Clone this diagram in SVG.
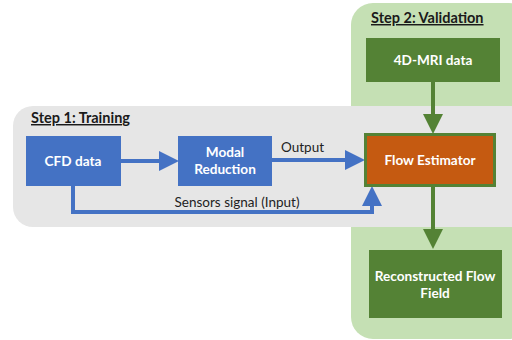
<svg xmlns="http://www.w3.org/2000/svg" width="512" height="340" viewBox="0 0 512 340">
<style>
.lbl{font-family:Lato,"Open Sans","Liberation Sans",sans-serif;font-weight:bold;font-size:13.6px;fill:#fff;text-anchor:middle}
.step{font-family:Lato,"Open Sans","Liberation Sans",sans-serif;font-weight:bold;font-size:14.5px;fill:#1a1a1a;text-decoration:underline}
.plain{font-family:Lato,"Open Sans","Liberation Sans",sans-serif;font-size:13.5px;fill:#222}
.blue{fill:#4472C4}
.green{fill:#548235}
.bl{stroke:#4472C4;stroke-width:4;fill:none}
.gl{stroke:#548235;stroke-width:4;fill:none}
</style>
<defs>
<marker id="ab" markerWidth="5" markerHeight="5" refX="4" refY="2.5" orient="auto" markerUnits="strokeWidth"><path d="M0,0 L5,2.5 L0,5 Z" fill="#4472C4"/></marker>
<marker id="ag" markerWidth="5" markerHeight="5" refX="4" refY="2.5" orient="auto" markerUnits="strokeWidth"><path d="M0,0 L5,2.5 L0,5 Z" fill="#548235"/></marker>
</defs>
<rect width="512" height="340" fill="#fff"/>
<rect id="panel2" x="351" y="3" width="180" height="336" rx="22" fill="#C5E0B4"/>
<rect id="panel1" x="13" y="106" width="520" height="121" rx="20" fill="#E6E6E6"/>
<text class="step" x="371" y="23">Step 2: Validation</text>
<text class="step" x="31" y="123">Step 1: Training</text>
<g id="connectors">
<line class="bl" x1="121" y1="161" x2="175" y2="161" marker-end="url(#ab)"/>
<line class="bl" x1="272" y1="160" x2="361" y2="160" marker-end="url(#ab)"/>
<polyline class="bl" points="73,186 73,212 372,212 372,190" marker-end="url(#ab)"/>
<line class="gl" x1="433" y1="82" x2="433" y2="130" marker-end="url(#ag)"/>
<line class="gl" x1="433" y1="187" x2="433" y2="245" marker-end="url(#ag)"/>
<text class="plain" x="281" y="152">Output</text>
<text class="plain" x="237" y="207" text-anchor="middle">Sensors signal (Input)</text>
</g>
<g id="cfd"><rect class="blue" x="26" y="136" width="95" height="50"/><text class="lbl" x="73" y="166">CFD data</text></g>
<g id="modal"><rect class="blue" x="178" y="136" width="94" height="50"/><text class="lbl" x="225" y="157">Modal</text><text class="lbl" x="225" y="174">Reduction</text></g>
<g id="flow"><rect x="365.5" y="134.5" width="129" height="51" fill="#C55A11" stroke="#548235" stroke-width="3"/><text class="lbl" x="430" y="165">Flow Estimator</text></g>
<g id="mri"><rect class="green" x="366" y="38" width="134" height="44"/><text class="lbl" x="433" y="65">4D-MRI data</text></g>
<g id="recon"><rect class="green" x="369" y="250" width="133" height="68"/><text class="lbl" x="435" y="281">Reconstructed Flow</text><text class="lbl" x="435" y="298">Field</text></g>
</svg>
